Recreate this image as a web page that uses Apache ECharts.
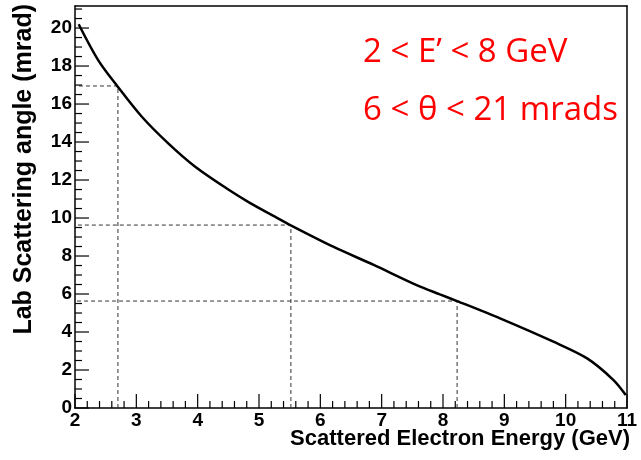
<!DOCTYPE html>
<html>
<head>
<meta charset="utf-8">
<script src="https://cdn.jsdelivr.net/npm/echarts@6/dist/echarts.min.js"></script>
<style>
  html, body { margin: 0; padding: 0; background: #fff; }
  #main { width: 641px; height: 460px; }
</style>
</head>
<body>
<div id="main"></div>
<script>
// curve: scattered energy (GeV) vs lab angle (mrad)
const energy = [2.06, 2.38, 2.70, 3.09, 3.52, 3.96, 4.50, 4.85, 5.26, 5.51, 6.21, 6.87, 7.57, 7.95, 8.23, 8.93, 9.80, 10.35, 10.78, 10.98];
const angle = [20.2, 18.3, 16.9, 15.33, 13.93, 12.7, 11.5, 10.8, 10.07, 9.63, 8.49, 7.53, 6.47, 5.98, 5.63, 4.72, 3.49, 2.61, 1.47, 0.68];

// dashed guide lines (energy, angle)
const guideE = [2.70, 5.52, 8.23];
const guideA = [16.95, 9.63, 5.63];

const xMin = 2, xMax = 11, xStep = 1, xMinorSplit = 5;
const yMin = 0, yMax = 21.16, yStep = 2, yMinorSplit = 4;

const chart = echarts.init(document.getElementById("main"));

// ROOT-style inward ticks: [value, 0 = x axis / 1 = y axis, length]
const tickData = [];
for (let v = xMin; v <= xMax + 1e-9; v += xStep / xMinorSplit) {
  const major = Math.abs(v - Math.round(v / xStep) * xStep) < 1e-6;
  tickData.push([+v.toFixed(3), 0, major ? 14 : 7]);
}
for (let v = yMin; v <= yMax + 1e-9; v += yStep / yMinorSplit) {
  const major = Math.abs(v - Math.round(v / yStep) * yStep) < 1e-6;
  tickData.push([+v.toFixed(3), 1, major ? 14 : 7]);
}

const frameLine = () => ({ show: true, onZero: false, lineStyle: { color: "#000", width: 1.5 } });
const labelFont = () => ({ fontFamily: "Liberation Sans", fontWeight: "bold", fontSize: 19, color: "#000", margin: 3 });

const series = guideE.map((e, i) => ({
  type: "line",
  data: [[e, yMin], [e, guideA[i]], [xMin, guideA[i]]],
  symbol: "none",
  silent: true,
  z: 1,
  lineStyle: { color: "#333", width: 1, type: [4, 3] },
}));

series.push({
  type: "line",
  data: energy.map((e, i) => [e, angle[i]]),
  symbol: "none",
  smooth: 0.3,
  z: 3,
  lineStyle: { color: "#000", width: 2.5 },
});

series.push({
  type: "custom",
  coordinateSystem: "cartesian2d",
  silent: true,
  z: 4,
  data: tickData,
  renderItem: (params, api) => {
    const v = api.value(0);
    const onY = api.value(1) === 1;
    const len = api.value(2);
    const p = onY ? api.coord([xMin, v]) : api.coord([v, yMin]);
    return {
      type: "line",
      shape: onY
        ? { x1: p[0], y1: p[1], x2: p[0] + len, y2: p[1] }
        : { x1: p[0], y1: p[1], x2: p[0], y2: p[1] - len },
      style: { stroke: "#000", lineWidth: 1.2 },
    };
  },
});

const option = {
  animation: false,
  grid: { left: 75, right: 14, top: 6, bottom: 52 },
  xAxis: [
    {
      type: "value", position: "bottom", min: xMin, max: xMax, interval: xStep,
      axisLine: frameLine(), axisTick: { show: false }, splitLine: { show: false },
      axisLabel: { ...labelFont(), formatter: (v) => String(v) },
    },
    {
      type: "value", position: "top", min: xMin, max: xMax,
      axisLine: frameLine(), axisTick: { show: false }, axisLabel: { show: false }, splitLine: { show: false },
    },
  ],
  yAxis: [
    {
      type: "value", position: "left", min: yMin, max: yMax, interval: yStep,
      axisLine: frameLine(), axisTick: { show: false }, splitLine: { show: false },
      axisLabel: { ...labelFont(), showMaxLabel: false },
    },
    {
      type: "value", position: "right", min: yMin, max: yMax,
      axisLine: frameLine(), axisTick: { show: false }, axisLabel: { show: false }, splitLine: { show: false },
    },
  ],
  graphic: [
    {
      type: "text", right: 11, top: 428,
      style: { text: "Scattered Electron Energy (GeV)", font: "bold 22px Liberation Sans", fill: "#000" },
    },
    {
      type: "text", left: 12, top: 4, rotation: Math.PI / 2,
      style: { text: "Lab Scattering angle (mrad)", font: "bold 25px Liberation Sans", fill: "#000" },
    },
    {
      type: "text", left: 363, top: 36,
      style: { text: "2 < E\u2019 < 8 GeV", font: "33px Open Sans", fill: "#ff0000" },
    },
    {
      type: "text", left: 363, top: 94,
      style: { text: "6 < \u03b8 < 21 mrads", font: "33px Open Sans", fill: "#ff0000" },
    },
  ],
  series: series,
};

chart.setOption(option);
</script>
</body>
</html>
